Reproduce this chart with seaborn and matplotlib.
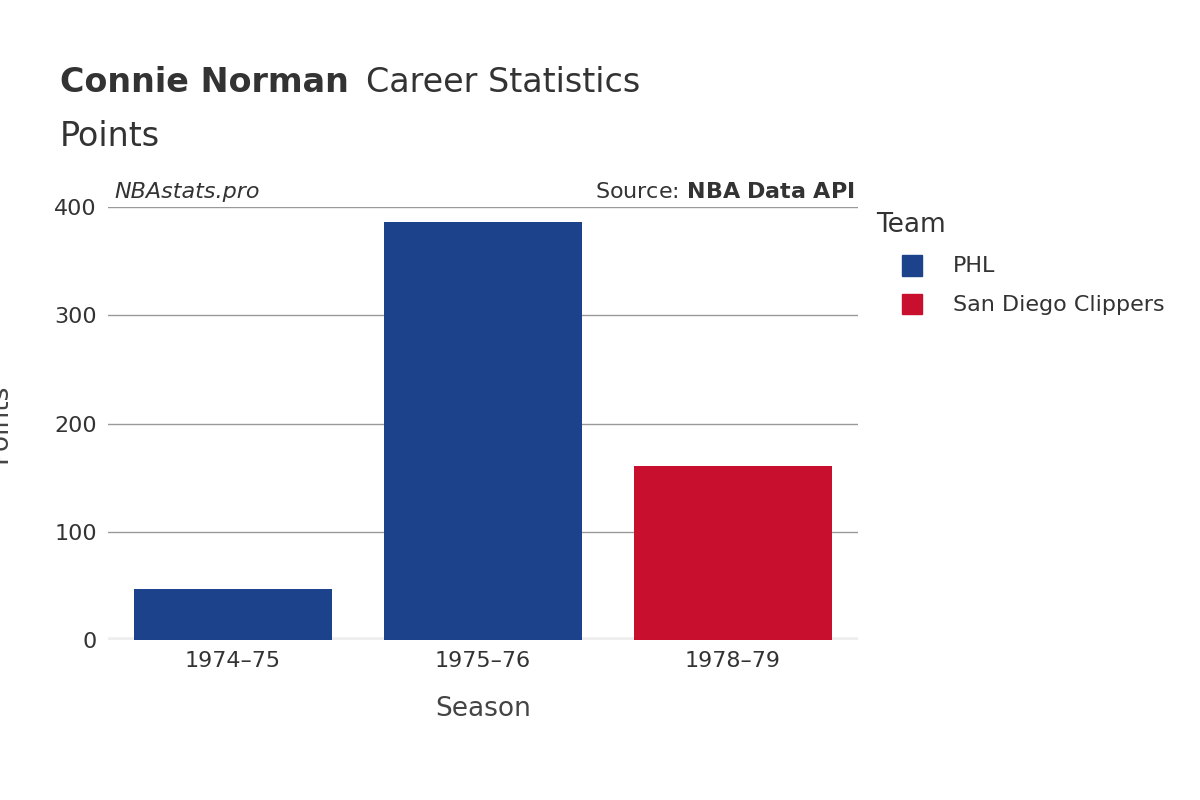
import pandas as pd
import seaborn as sns
import matplotlib.pyplot as plt

seasons = ['1974–75', '1975–76', '1978–79']
points = [47, 386, 161]
teams = ['PHL', 'PHL', 'San Diego Clippers']
team_colors = {'PHL': '#1B428A', 'San Diego Clippers': '#C8102E'}

df = pd.DataFrame({'Season': seasons, 'Points': points, 'Team': teams})

fig = plt.figure(figsize=(12, 8), dpi=100)
ax = fig.add_axes([0.09, 0.2, 0.625, 0.541])
sns.barplot(data=df, x='Season', y='Points', hue='Team', palette=team_colors,
            dodge=False, width=0.79, saturation=1, ax=ax, legend=False, zorder=3)

ax.set_ylim(0, 400)
ax.set_yticks([0, 100, 200, 300, 400])
ax.grid(axis='y', color='#999999', linewidth=1, zorder=0)
ax.axhline(0, color='#eeeeee', linewidth=4, zorder=2)
for s in ax.spines.values():
    s.set_visible(False)
ax.tick_params(length=0, labelsize=16, colors='#333333', pad=8)
ax.set_xlabel('Season', fontsize=19, color='#444444', labelpad=18)
ax.set_ylabel('Points', fontsize=19, color='#444444', labelpad=30)

fig.text(0.05, 0.885, 'Connie Norman', fontsize=24, weight='bold', color='#333333')
fig.text(0.305, 0.885, 'Career Statistics', fontsize=24, color='#333333')
fig.text(0.05, 0.818, 'Points', fontsize=24, color='#333333')
fig.text(0.095, 0.752, 'NBAstats.pro', fontsize=16, style='italic', color='#333333')
fig.text(0.712, 0.752, 'Source: $\\bf{NBA\\ Data\\ API}$', fontsize=16, color='#333333', ha='right')

fig.text(0.73, 0.71, 'Team', fontsize=19, color='#333333')
for i, (name, col) in enumerate(team_colors.items()):
    y = 0.667 - i * 0.048
    fig.patches.append(plt.Rectangle((0.752, y - 0.012), 0.016, 0.026, transform=fig.transFigure,
                                     color=col, figure=fig))
    fig.text(0.794, y, name, fontsize=16, color='#333333', va='center')

fig.savefig('out.png')
